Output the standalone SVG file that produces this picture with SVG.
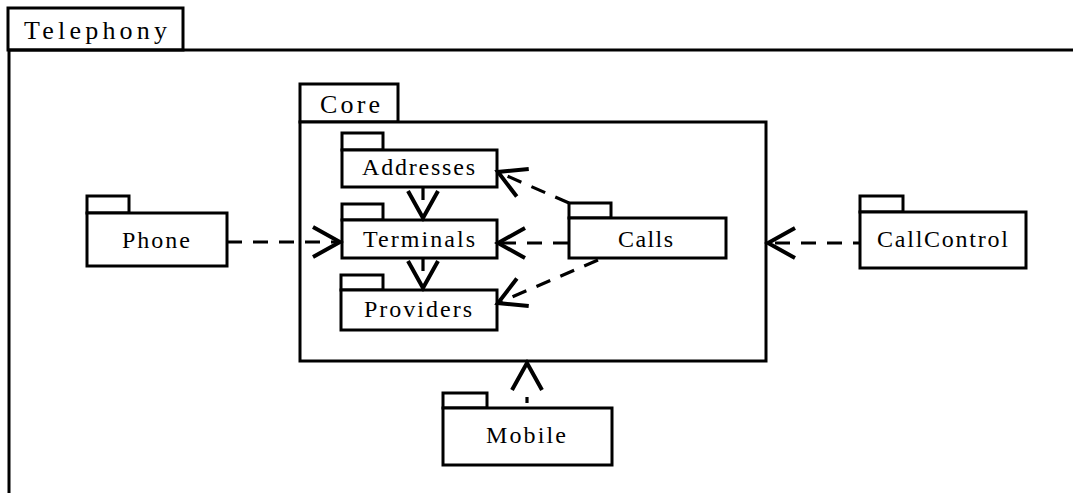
<svg xmlns="http://www.w3.org/2000/svg" width="1073" height="493" viewBox="0 0 1073 493">
<style>
.box{fill:#fff;stroke:#000;stroke-width:3}
.frame{fill:none;stroke:#000;stroke-width:3}
.lbl{font-family:"Liberation Serif","Times New Roman",serif;font-size:24px;fill:#000}
.big{font-family:"Liberation Serif","Times New Roman",serif;font-size:26px;fill:#000}
.dep{fill:none;stroke:#000;stroke-width:3.2;stroke-dasharray:15 11}
</style>
<defs>
<marker id="open" markerUnits="userSpaceOnUse" viewBox="-32 -20 36 40" refX="0" refY="0" markerWidth="36" markerHeight="40" orient="auto">
<path d="M-27,-15 L0,0 L-27,15" fill="none" stroke="#000" stroke-width="4" stroke-linejoin="miter"/>
</marker>
</defs>
<rect width="1073" height="493" fill="#fff"/>
<g id="telephony">
<rect class="box" x="8" y="8" width="175" height="42"/>
<path class="frame" d="M9,50 L1080,50 M9,50 L9,500"/>
<text class="big" x="24" y="39" textLength="143" lengthAdjust="spacing">Telephony</text>
</g>
<g id="core">
<rect class="box" x="300" y="84" width="98" height="38"/>
<rect class="box" x="300" y="122" width="466" height="239"/>
<text class="big" x="320" y="113" textLength="60" lengthAdjust="spacing">Core</text>
</g>
<g id="addresses">
<rect class="box" x="342" y="133" width="41" height="17"/>
<rect class="box" x="342" y="150" width="155" height="37"/>
<text class="lbl" x="362" y="175" textLength="113" lengthAdjust="spacing">Addresses</text>
</g>
<g id="terminals">
<rect class="box" x="342" y="204" width="41" height="16"/>
<rect class="box" x="342" y="220" width="155" height="38"/>
<text class="lbl" x="363" y="247" textLength="112" lengthAdjust="spacing">Terminals</text>
</g>
<g id="providers">
<rect class="box" x="341" y="275" width="42" height="15"/>
<rect class="box" x="341" y="290" width="156" height="40"/>
<text class="lbl" x="364" y="317" textLength="108" lengthAdjust="spacing">Providers</text>
</g>
<g id="calls">
<rect class="box" x="569" y="203" width="42" height="15"/>
<rect class="box" x="569" y="218" width="157" height="40"/>
<text class="lbl" x="618" y="247" textLength="55" lengthAdjust="spacing">Calls</text>
</g>
<g id="phone">
<rect class="box" x="87" y="196" width="42" height="17"/>
<rect class="box" x="87" y="213" width="140" height="53"/>
<text class="lbl" x="122" y="248" textLength="68" lengthAdjust="spacing">Phone</text>
</g>
<g id="callcontrol">
<rect class="box" x="860" y="196" width="43" height="16"/>
<rect class="box" x="860" y="212" width="166" height="56"/>
<text class="lbl" x="877" y="247" textLength="131" lengthAdjust="spacing">CallControl</text>
</g>
<g id="mobile">
<rect class="box" x="443" y="393" width="44" height="15"/>
<rect class="box" x="443" y="408" width="169" height="57"/>
<text class="lbl" x="486" y="443" textLength="80" lengthAdjust="spacing">Mobile</text>
</g>
<g id="connectors">
<path class="dep" d="M227,242 L340,242" marker-end="url(#open)"/>
<path class="dep" d="M860,243 L768,243" stroke-dashoffset="8" marker-end="url(#open)"/>
<path class="dep" d="M527,403 L527,363" style="stroke-dasharray:6 40" marker-end="url(#open)"/>
<path class="dep" d="M423,188 L423,218" style="stroke-dasharray:12 40" marker-end="url(#open)"/>
<path class="dep" d="M423,259 L423,288" style="stroke-dasharray:12 40" marker-end="url(#open)"/>
<path class="dep" d="M569,203 L498,172" marker-end="url(#open)"/>
<path class="dep" d="M568,243 L498,243" marker-end="url(#open)"/>
<path class="dep" d="M598,260 L498,303" marker-end="url(#open)"/>
</g>
</svg>
